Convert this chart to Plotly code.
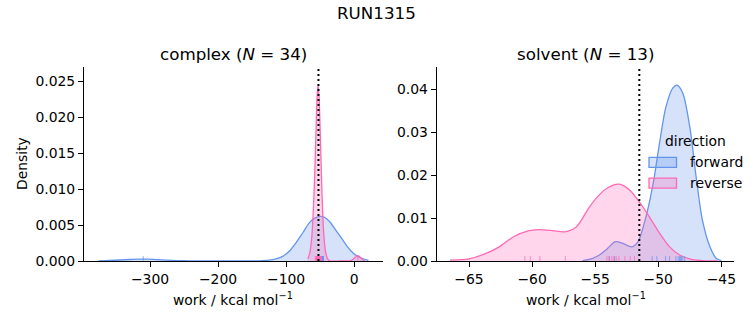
import plotly.graph_objects as go

# ---------------- data ----------------
directions = ["forward", "reverse"]
legend_title = "direction"
panel_titles = ["complex (<i>N</i> = 34)", "solvent (<i>N</i> = 13)"]
suptitle = "RUN1315"

# complex panel - KDE curves
complex_fwd_x = [-376, -360, -345, -330, -318, -310, -302, -290, -275, -260, -245, -230, -200,
                 -170, -140, -125, -115, -105, -95, -85, -75, -65, -57, -50, -43, -35, -27,
                 -18, -10, -2, 6, 14, 21]
complex_fwd_y = [0.00002, 0.00007, 0.00014, 0.00021, 0.00025, 0.00027, 0.00025, 0.00020,
                 0.00012, 0.00006, 0.00003, 0.00001, 0.0, 0.0, 0.00003, 0.00012, 0.00030,
                 0.00065, 0.00140, 0.00260, 0.00400, 0.00540, 0.00600, 0.00620, 0.00605,
                 0.00535, 0.00430, 0.00310, 0.00200, 0.00115, 0.00060, 0.00028, 0.00008]
complex_rev_x = [-68, -65, -62, -60, -58, -56, -54.5, -53, -51.5, -50, -48, -46, -44, -42,
                 -39, -35, -20, -6, -2, 1, 3.5, 5.5, 7.5, 10, 13, 16]
complex_rev_y = [0.0003, 0.0012, 0.0036, 0.0070, 0.0118, 0.0180, 0.0228, 0.0245, 0.0228,
                 0.0185, 0.0118, 0.0062, 0.0030, 0.0013, 0.0003, 0.0, 0.0, 0.00003, 0.0002,
                 0.00045, 0.00066, 0.00074, 0.00066, 0.00042, 0.00014, 0.00002]

# solvent panel - KDE curves
solvent_fwd_x = [-56.0, -55.2, -54.6, -54.1, -53.4, -52.8, -52.1, -51.6, -51.0, -50.4, -49.9,
                 -49.4, -48.85, -48.5, -48.05, -47.5, -47.0, -46.5, -45.9, -45.4, -45.0]
solvent_fwd_y = [0.0001, 0.0006, 0.0015, 0.0027, 0.0045, 0.0041, 0.0033, 0.0045, 0.0100,
                 0.0181, 0.0274, 0.0358, 0.0403, 0.0410, 0.0391, 0.0313, 0.0197, 0.0096,
                 0.0033, 0.0006, 0.0001]
solvent_rev_x = [-66.5, -65.0, -63.7, -62.6, -61.5, -60.3, -59.5, -58.4, -57.4, -56.5, -55.5,
                 -54.8, -54.1, -53.1, -52.3, -51.5, -50.7, -49.9, -49.1, -48.3, -47.3, -46.2,
                 -45.3]
solvent_rev_y = [0.0002, 0.0005, 0.0017, 0.0033, 0.0056, 0.0070, 0.0073, 0.0071, 0.0068,
                 0.0079, 0.0124, 0.0150, 0.0169, 0.0179, 0.0166, 0.0138, 0.0103, 0.0065,
                 0.0033, 0.0014, 0.0003, 0.00003, 0.0]

# rug samples
complex_fwd_rug = [-310, -53.5, -52.8, -52.2, -51.8, -51.4, -51.0, -50.7, -50.4, -50.1, -49.8,
                   -49.5, -49.2, -48.9, -48.6, -48.3, -48.0, -47.7, -47.4, -47.1, -46.8,
                   -46.5, -46.2, -45.9, -45.6, -45.3, -50.2, -49.0, -48.1, -47.5, -46.9,
                   -46.0, -45.5, -51.2]
complex_rev_rug = [5.5, -57.0, -56.5, -56.0, -55.6, -55.2, -54.9, -54.6, -54.3, -54.0,
                   -53.7, -53.5, -53.3, -53.1, -52.9, -52.7, -52.5, -52.3, -52.1, -51.9,
                   -51.7, -51.4, -51.1, -50.8, -50.5, -50.2, -49.8, -49.4, -49.0, -48.6,
                   -48.2, -53.9, -52.0, -50.0]
solvent_fwd_rug = [-53.9, -53.46, -50.48, -50.11, -49.42, -49.1, -48.6, -48.42, -48.31,
                   -48.23, -48.15, -48.05, -47.9]
solvent_rev_rug = [-60.57, -60.14, -59.38, -57.37, -54.07, -53.86, -53.68, -53.52, -53.33,
                   -53.12, -52.64, -52.22, -51.88]

# reference (dotted) lines
ref_lines = [-52.4, -51.5]

# axes
x_ranges = [[-397, 42], [-67.56, -43.97]]
y_ranges = [[0, 0.02703], [0, 0.04529]]
x_tickvals = [[-300, -200, -100, 0], [-65, -60, -55, -50, -45]]
x_ticktext = [["−300", "−200", "−100", "0"], ["−65", "−60", "−55", "−50", "−45"]]
y_tickvals = [[0, 0.005, 0.010, 0.015, 0.020, 0.025], [0, 0.01, 0.02, 0.03, 0.04]]
y_ticktext = [["0.000", "0.005", "0.010", "0.015", "0.020", "0.025"],
              ["0.00", "0.01", "0.02", "0.03", "0.04"]]
x_label = "work / kcal mol<sup>−1</sup>"
y_label = "Density"

# ---------------- styling ----------------
W, H = 753, 325
FONT = "DejaVu Sans"
TICK_SIZE = 13.9
TITLE_SIZE = 16.7
line_col = {"forward": "#6495ED", "reverse": "#FF69B4"}
fill_col = {"forward": "rgba(100,149,237,0.27)", "reverse": "rgba(255,105,180,0.27)"}
rug_col = {"forward": "rgba(100,149,237,0.75)", "reverse": "rgba(255,105,180,0.75)"}

x_domains = [[84 / W, 382.7 / W], [436.7 / W, 734.3 / W]]
y_domain = [1 - 261 / H, 1 - 66.7 / H]


def py(px):
    return 1 - px / H


curves = [
    {"forward": (complex_fwd_x, complex_fwd_y), "reverse": (complex_rev_x, complex_rev_y)},
    {"forward": (solvent_fwd_x, solvent_fwd_y), "reverse": (solvent_rev_x, solvent_rev_y)},
]
rugs = [
    {"forward": complex_fwd_rug, "reverse": complex_rev_rug},
    {"forward": solvent_fwd_rug, "reverse": solvent_rev_rug},
]

fig = go.Figure()
shapes = []
for p in range(2):
    xa = "x" if p == 0 else "x2"
    ya = "y" if p == 0 else "y2"
    for d in directions:
        xs, ys = curves[p][d]
        fig.add_trace(go.Scatter(
            x=xs, y=ys, xaxis=xa, yaxis=ya, mode="lines", name=d,
            line=dict(color=line_col[d], width=1.3, shape="spline", smoothing=0.8),
            fill="tozeroy", fillcolor=fill_col[d], showlegend=False, hoverinfo="skip"))
    h = 0.025 * y_ranges[p][1]
    for d in directions:
        rx, ry = [], []
        for v in rugs[p][d]:
            rx += [v, v, None]
            ry += [0, h, None]
        fig.add_trace(go.Scatter(
            x=rx, y=ry, xaxis=xa, yaxis=ya, mode="lines",
            line=dict(color=rug_col[d], width=1), showlegend=False, hoverinfo="skip"))
    shapes.append(dict(type="line", xref=xa, yref=f"{ya} domain", x0=ref_lines[p],
                       x1=ref_lines[p], y0=0, y1=1,
                       line=dict(color="black", width=2, dash="2px,3px")))

axis_common = dict(showline=True, linecolor="black", linewidth=1, ticks="outside",
                   ticklen=5, tickwidth=1, tickcolor="black", showgrid=False, zeroline=False,
                   automargin=False,
                   tickfont=dict(family=FONT, size=TICK_SIZE, color="black"))
for p in range(2):
    sfx = "" if p == 0 else "2"
    fig.update_layout(**{
        f"xaxis{sfx}": dict(domain=x_domains[p], range=x_ranges[p], tickmode="array",
                            tickvals=x_tickvals[p], ticktext=x_ticktext[p],
                            anchor="y" + sfx, **axis_common),
        f"yaxis{sfx}": dict(domain=y_domain, range=y_ranges[p], tickmode="array",
                            tickvals=y_tickvals[p], ticktext=y_ticktext[p],
                            anchor="x" + sfx, **axis_common),
    })

txt = dict(xref="paper", yref="paper", showarrow=False, xanchor="center", yanchor="middle")
annotations = [dict(text=suptitle, x=376.5 / W, y=py(13),
                    font=dict(family=FONT, size=TITLE_SIZE, color="black"), **txt)]
for p in range(2):
    cx = (x_domains[p][0] + x_domains[p][1]) / 2
    annotations.append(dict(text=panel_titles[p], x=cx, y=py(54),
                            font=dict(family=FONT, size=TITLE_SIZE, color="black"), **txt))
    annotations.append(dict(text=x_label, x=cx, y=py(299),
                            font=dict(family=FONT, size=TICK_SIZE, color="black"), **txt))
annotations.append(dict(text=y_label, x=22 / W, y=py(164), textangle=-90,
                        font=dict(family=FONT, size=TICK_SIZE, color="black"), **txt))

# legend (drawn as patches + text)
annotations.append(dict(text=legend_title, x=695 / W, y=py(141),
                        font=dict(family=FONT, size=TICK_SIZE, color="black"), **txt))
for i, d in enumerate(directions):
    cy = 162.3 + i * 20.8
    shapes.append(dict(type="rect", xref="paper", yref="paper", x0=649 / W, x1=676.5 / W,
                       y0=py(cy - 5), y1=py(cy + 5), fillcolor=fill_col[d],
                       line=dict(color=line_col[d], width=1.3), layer="above"))
    annotations.append(dict(text=d, x=687.5 / W, y=py(cy), xref="paper", yref="paper",
                            showarrow=False, xanchor="left", yanchor="middle",
                            font=dict(family=FONT, size=TICK_SIZE, color="black")))

fig.update_layout(
    width=W, height=H, margin=dict(l=0, r=0, t=0, b=0),
    paper_bgcolor="white", plot_bgcolor="white",
    font=dict(family=FONT, size=TICK_SIZE, color="black"),
    annotations=annotations, shapes=shapes, showlegend=False,
)

fig.write_html("out.html")
